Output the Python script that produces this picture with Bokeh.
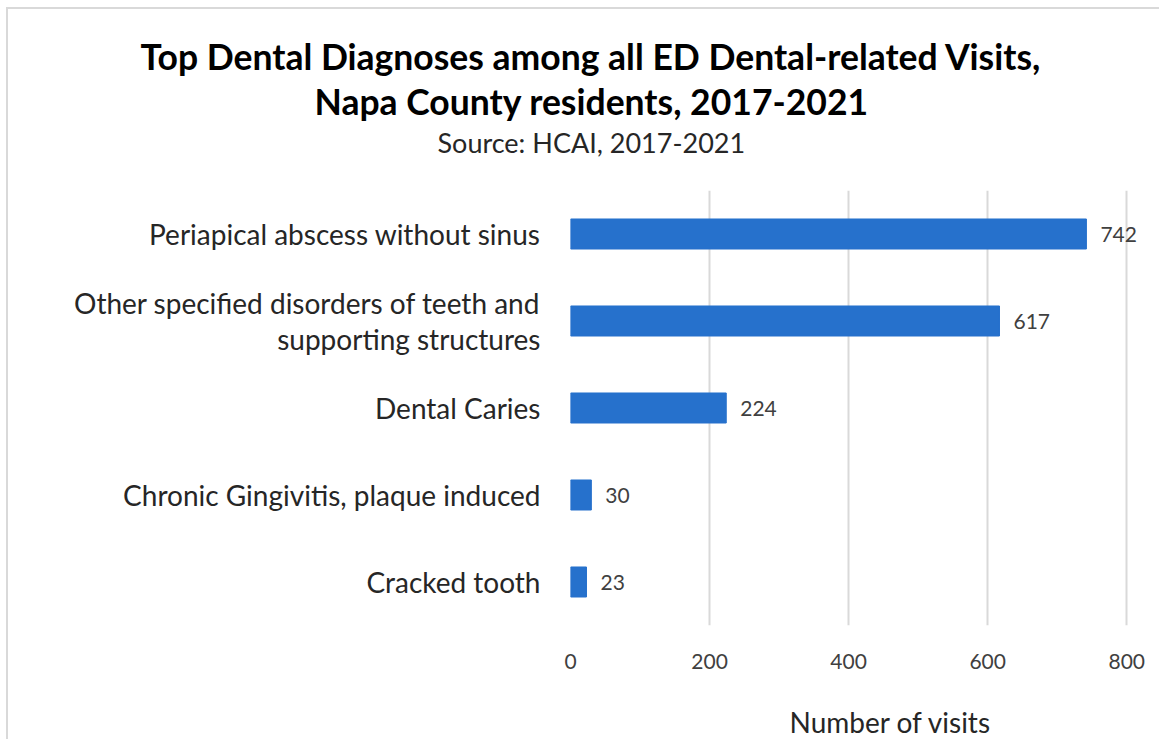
from bokeh.plotting import figure
from bokeh.models import ColumnDataSource, LabelSet, Title, FixedTicker
from bokeh.core.properties import value
from bokeh.embed import file_html
from bokeh.resources import INLINE

categories = [
    "Periapical abscess without sinus",
    "Other specified disorders of teeth and\nsupporting structures",
    "Dental Caries",
    "Chronic Gingivitis, plaque induced",
    "Cracked tooth",
]
visits = [742, 617, 224, 30, 23]
x_ticks = [0, 200, 400, 600, 800]

title_line1 = "Top Dental Diagnoses among all ED Dental-related Visits,"
title_line2 = "Napa County residents, 2017-2021"
subtitle = "Source: HCAI, 2017-2021"
x_title = "Number of visits"

FONT = "Lato"
BAR = "#2671CC"

src = ColumnDataSource(dict(cat=categories, val=visits, lab=[str(v) for v in visits]))

p = figure(width=1153, height=732, y_range=categories[::-1], x_range=(0, 850),
           output_backend="svg", toolbar_location=None, title=None,
           min_border_left=562, min_border_right=0, min_border_top=181, min_border_bottom=116)
p.styles = {"margin-left": "6px", "margin-top": "7px",
            "border-top": "2px solid #d9d9d9", "border-left": "2px solid #d9d9d9"}

p.hbar(y="cat", right="val", left=0, height=0.345, source=src, fill_color=BAR, line_color=BAR)

labels = LabelSet(x="val", y="cat", text="lab", source=src, x_offset=14, text_baseline="middle",
                  text_font=value(FONT), text_font_size="21px", text_color="#404040")
p.add_layout(labels)

p.outline_line_color = None
p.ygrid.grid_line_color = None
p.xgrid.grid_line_color = "#d9d9d9"
p.xgrid.grid_line_width = 2
p.xaxis.ticker = FixedTicker(ticks=x_ticks)
p.xaxis.axis_line_color = None
p.xaxis.major_tick_line_color = None
p.xaxis.minor_tick_line_color = None
p.xaxis.major_label_standoff = 22
p.xaxis.major_label_text_font = FONT
p.xaxis.major_label_text_font_size = "21px"
p.xaxis.major_label_text_color = "#404040"

p.yaxis.axis_line_color = None
p.yaxis.major_tick_line_color = None
p.yaxis.minor_tick_line_color = None
p.yaxis.major_label_standoff = 24
p.yaxis.major_label_text_font = FONT
p.yaxis.major_label_text_font_size = "28px"
p.yaxis.major_label_text_line_height = 1.05
p.yaxis.major_label_text_color = "#262626"

def make_title(text, offset, size, standoff, bold=False, color="#262626"):
    return Title(text=text, align="left", offset=offset, text_font=FONT, text_font_size=size,
                 text_font_style="bold" if bold else "normal", text_color=color, standoff=standoff)

p.add_layout(make_title("\n" + x_title, 219, "28px", -6), "below")
p.add_layout(make_title(subtitle + "\n", -133, "27px", -2), "above")
p.add_layout(make_title(title_line2, -256, "35.5px", 4, bold=True, color="#000000"), "above")
p.add_layout(make_title(title_line1, -430, "35.5px", -5, bold=True, color="#000000"), "above")

open("out.html", "w").write(file_html(p, INLINE))
